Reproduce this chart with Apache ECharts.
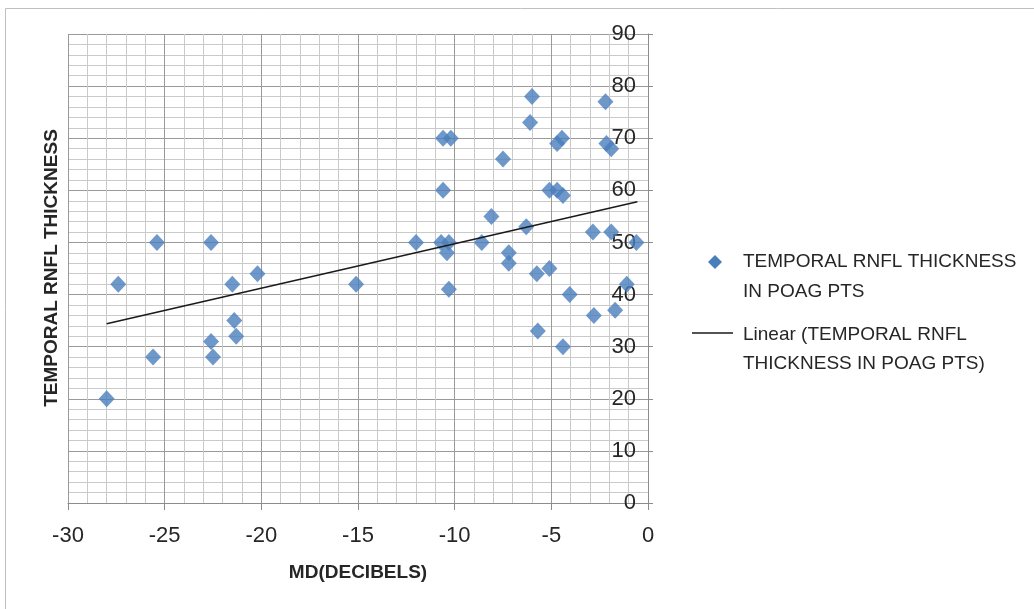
<!DOCTYPE html>
<html>
<head>
<meta charset="utf-8">
<title>Temporal RNFL thickness vs MD</title>
<script src="https://cdn.jsdelivr.net/npm/echarts@6/dist/echarts.min.js"></script>
<style>
  html, body { margin: 0; padding: 0; background: #ffffff; }
  #chart { width: 1034px; height: 609px; }
</style>
</head>
<body>
<div id="chart"></div>
<script>
// Mean deviation (dB) of each POAG patient
const mdValues = [
  -28.0, -27.4, -25.4, -25.6, -22.6, -22.6, -22.5, -21.5, -21.4, -21.3,
  -20.2, -15.1, -12.0, -10.6, -10.2, -10.6, -10.7, -10.3, -10.4, -10.3,
  -8.6, -8.1, -7.5, -7.2, -7.2, -6.3, -6.0, -6.1, -5.75, -5.7,
  -5.1, -5.1, -4.7, -4.7, -4.45, -4.4, -4.4, -4.05, -2.85, -2.8,
  -2.2, -2.15, -1.9, -1.9, -1.7, -1.1, -0.6
];
// Temporal RNFL thickness of the same patients
const rnflValues = [
  20, 42, 50, 28, 50, 31, 28, 42, 35, 32,
  44, 42, 50, 70, 70, 60, 50, 50, 48, 41,
  50, 55, 66, 48, 46, 53, 78, 73, 44, 33,
  45, 60, 60, 69, 70, 59, 30, 40, 52, 36,
  77, 69, 68, 52, 37, 42, 50
];
// End points of the linear trend line
const trendMd = [-28.0, -0.55];
const trendRnfl = [34.4, 57.8];

const seriesName = 'TEMPORAL RNFL THICKNESS IN POAG PTS';
const trendName = 'Linear (TEMPORAL RNFL THICKNESS IN POAG PTS)';
const legendLines = [
  ['TEMPORAL RNFL THICKNESS', 'IN POAG PTS'],
  ['Linear (TEMPORAL RNFL', 'THICKNESS IN POAG PTS)']
];

const FONT = "'Liberation Sans', Arial, sans-serif";
const TEXT = '#262626';
const BLUE = '#4a7ebb';

const points = mdValues.map((x, i) => [x, rnflValues[i]]);
const trend = trendMd.map((x, i) => [x, trendRnfl[i]]);

const chart = echarts.init(document.getElementById('chart'), null, { renderer: 'canvas' });

chart.setOption({
  backgroundColor: '#ffffff',
  animation: false,
  grid: { left: 68, right: 386, top: 34, bottom: 106, containLabel: false },
  xAxis: {
    type: 'value',
    min: -30, max: 0, interval: 5,
    name: 'MD(DECIBELS)',
    nameLocation: 'middle',
    nameGap: 60,
    nameTextStyle: { fontFamily: FONT, fontSize: 19, fontWeight: 'bold', color: TEXT },
    axisLine: { show: true, onZero: false, lineStyle: { color: '#8c8c8c', width: 1 } },
    axisTick: { show: true, length: 7, lineStyle: { color: '#8c8c8c' } },
    axisLabel: { fontFamily: FONT, fontSize: 22, color: TEXT, margin: 22 },
    splitLine: { show: true, lineStyle: { color: '#9a9a9a', width: 1 } },
    minorTick: { show: false, splitNumber: 5 },
    minorSplitLine: { show: true, lineStyle: { color: '#cacaca', width: 1 } }
  },
  yAxis: {
    type: 'value',
    position: 'right',
    min: 0, max: 90, interval: 10,
    axisLine: { show: true, onZero: false, lineStyle: { color: '#8c8c8c', width: 1 } },
    axisTick: { show: true, length: 5, lineStyle: { color: '#8c8c8c' } },
    axisLabel: { inside: true, fontFamily: FONT, fontSize: 22, color: TEXT, margin: 12 },
    splitLine: { show: true, lineStyle: { color: '#9a9a9a', width: 1 } },
    minorTick: { show: false, splitNumber: 5 },
    minorSplitLine: { show: true, lineStyle: { color: '#cacaca', width: 1 } }
  },
  series: [
    {
      name: seriesName,
      type: 'scatter',
      symbol: 'diamond',
      symbolSize: [16, 17],
      itemStyle: { color: BLUE },
      data: points,
      z: 3
    },
    {
      name: trendName,
      type: 'line',
      showSymbol: false,
      symbol: 'none',
      lineStyle: { color: '#1a1a1a', width: 1.5 },
      data: trend,
      z: 4
    }
  ],
  graphic: [
    // outer chart border
    {
      type: 'rect', silent: true, z: -1,
      shape: { x: 5.5, y: 8.5, width: 1100, height: 700 },
      style: { fill: null, stroke: '#bfbfbf', lineWidth: 1 }
    },
    // vertical axis title
    {
      type: 'text', silent: true,
      x: 52, y: 268, rotation: Math.PI / 2,
      style: {
        text: 'TEMPORAL RNFL THICKNESS',
        fontFamily: FONT, fontSize: 19, fontWeight: 'bold', fill: TEXT,
        align: 'center', verticalAlign: 'middle'
      }
    },
    // legend: scatter entry
    {
      type: 'polygon', silent: true,
      shape: { points: [[715, 255], [722, 262], [715, 269], [708, 262]] },
      style: { fill: BLUE }
    },
    {
      type: 'text', silent: true, x: 743, y: 277,
      style: {
        text: legendLines[0].join('\n'), lineHeight: 30,
        fontFamily: FONT, fontSize: 19, fill: TEXT,
        align: 'left', verticalAlign: 'middle'
      }
    },
    // legend: trend line entry
    {
      type: 'line', silent: true,
      shape: { x1: 692, y1: 333, x2: 733, y2: 333 },
      style: { stroke: '#1a1a1a', lineWidth: 1.5 }
    },
    {
      type: 'text', silent: true, x: 743, y: 349,
      style: {
        text: legendLines[1].join('\n'), lineHeight: 29,
        fontFamily: FONT, fontSize: 19, fill: TEXT,
        align: 'left', verticalAlign: 'middle'
      }
    }
  ]
});
</script>
</body>
</html>
